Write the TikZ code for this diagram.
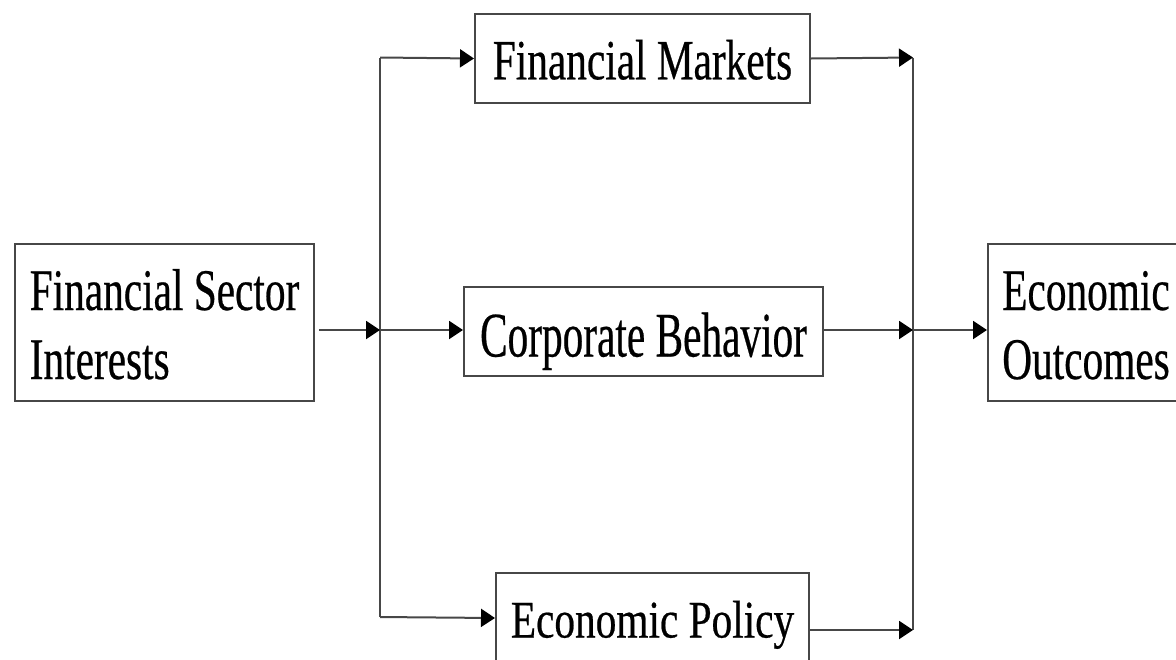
\documentclass[tikz,border=0pt]{standalone}
\usepackage{fontspec}
\usepackage{graphicx}
\setmainfont{Liberation Serif}[FakeStretch=0.7,FakeBold=0.4]
\usetikzlibrary{arrows.meta}
\tikzset{
  box/.style={draw=black!72, line width=1pt, anchor=north west, inner xsep=0pt, inner ysep=0pt,
    font=\fontsize{29.5pt}{34.5pt}\selectfont},
  twoline/.style={box, align=left},
  conn/.style={draw=black!72, line width=1pt},
  arr/.style={conn, -{Triangle[length=7pt,width=9pt,fill=black,color=black]}}
}
\begin{document}
\begin{tikzpicture}[x=0.5pt,y=-0.5pt]
\useasboundingbox (0,0) rectangle (1176,659);
\clip (0,0) rectangle (1176,659);
\fill[white] (0,0) rectangle (1176,659);
% boxes
\node[twoline, minimum width=149.5pt, minimum height=78.5pt, text height=56.5pt, text depth=0pt] (fsi) at (14,243) {Financial Sector\\Interests};
\node[box, minimum width=167.5pt, minimum height=44.2pt, text height=20.8pt, text depth=0pt] (fm) at (474,13.3) {\scalebox{1}[0.964]{Financial Markets}};
\node[box, minimum width=179.5pt, minimum height=44.5pt, text height=25pt, text depth=0pt] (cb) at (463,286) {\scalebox{1}[1.077]{Corporate Behavior}};
\node[box, minimum width=156.5pt, minimum height=45pt, text height=19.5pt, text depth=0pt] (ep) at (495,572) {\scalebox{1}[0.897]{Economic Policy}};
\node[twoline, minimum width=98pt, minimum height=78.5pt, text height=56.5pt, text depth=0pt] (eo) at (987,243) {Economic\\Outcomes};
% junctions
\coordinate (jl) at (380,330);
\coordinate (jr) at (913,330);
\coordinate (tl) at (380,57.5);
\coordinate (bl) at (380,617);
\coordinate (tr) at (913,57.5);
\coordinate (br) at (913,630);
% connectors
\draw[conn] (tl) -- (bl);
\draw[conn] (tr) -- (br);
\draw[arr] ([xshift=2pt]fsi.east |- jl) -- (jl);
\draw[arr] (tl) -- (fm.west);
\draw[arr] (jl) -- (cb.west |- jl);
\draw[arr] (bl) -- (ep.west);
\draw[arr] (fm.east) -- (tr);
\draw[arr] (cb.east |- jr) -- (jr);
\draw[arr] (ep.east |- br) -- (br);
\draw[arr] (jr) -- (eo.west |- jr);
\end{tikzpicture}
\end{document}
